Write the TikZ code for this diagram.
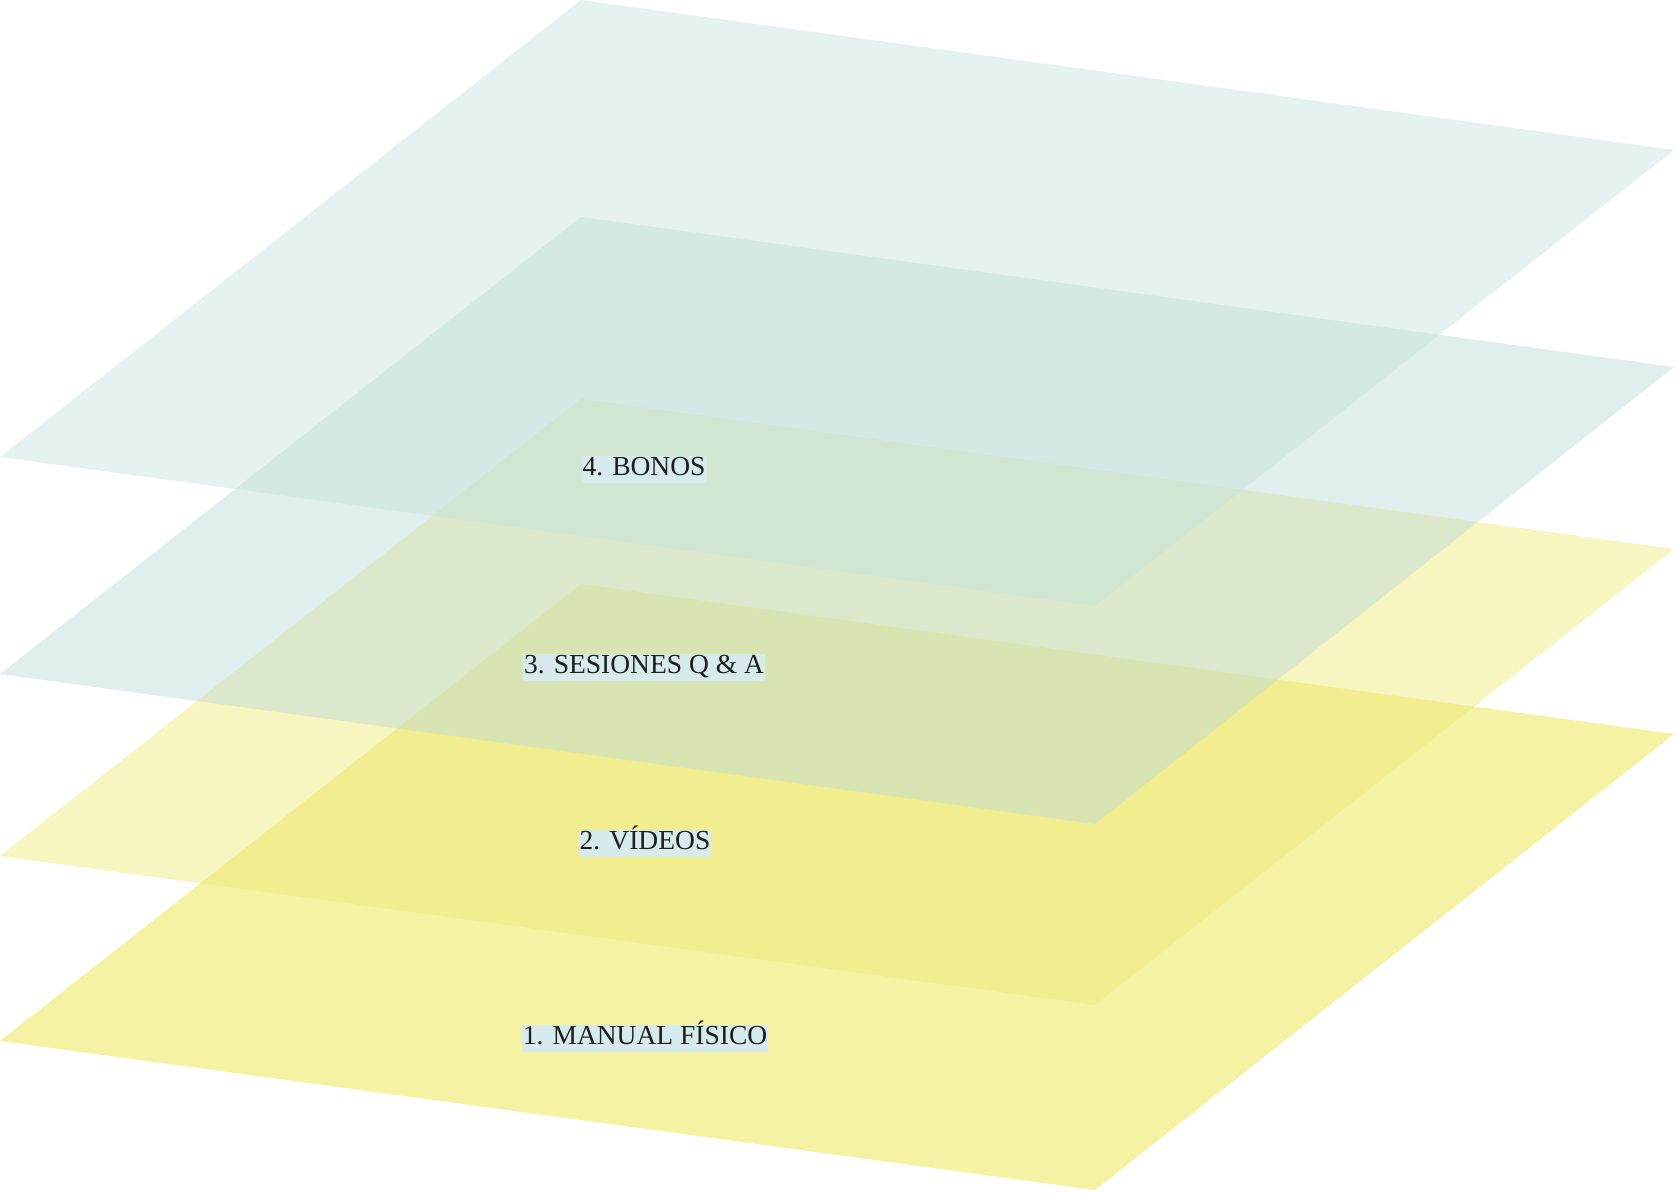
\documentclass[tikz,border=0pt]{standalone}
\usepackage{fontspec}
\setmainfont{Liberation Serif}
\definecolor{yelA}{RGB}{233,227,55}
\definecolor{yelB}{RGB}{238,233,118}
\definecolor{tealC}{RGB}{188,218,218}
\definecolor{tealD}{RGB}{195,224,221}
\definecolor{lblbg}{RGB}{215,235,236}
\definecolor{lbltxt}{RGB}{30,30,30}
\begin{document}
\begin{tikzpicture}[x=1pt,y=-1pt,
  plane/.style={draw=none,fill opacity=0.46},
  lbl/.style={fill=lblbg,text=lbltxt,font=\fontsize{27.5}{30}\selectfont,
    inner xsep=1pt,inner ysep=0pt,text height=20pt,text depth=7pt}]
\useasboundingbox (0,0) rectangle (1677,1193);
% plane 1 (bottom)
\fill[plane,yelA] (581,584) -- (1674,734) -- (1095,1190) -- (0,1041) -- cycle;
% plane 2
\fill[plane,yelB] (581,399) -- (1674,549) -- (1095,1005) -- (0,856) -- cycle;
% plane 3
\fill[plane,tealC] (581,217) -- (1674,367) -- (1095,824) -- (0,674) -- cycle;
% plane 4 (top)
\fill[plane,tealD,fill opacity=0.42] (581,0) -- (1674,150) -- (1095,606) -- (0,457) -- cycle;
% labels
\node[lbl] (l4) at (644,469) {4. BONOS};
\node[lbl] (l3) at (644,667) {3. SESIONES Q \& A};
\node[lbl] (l2) at (645,843) {2. VÍDEOS};
\node[lbl] (l1) at (645,1038) {1. MANUAL FÍSICO};
\end{tikzpicture}
\end{document}
